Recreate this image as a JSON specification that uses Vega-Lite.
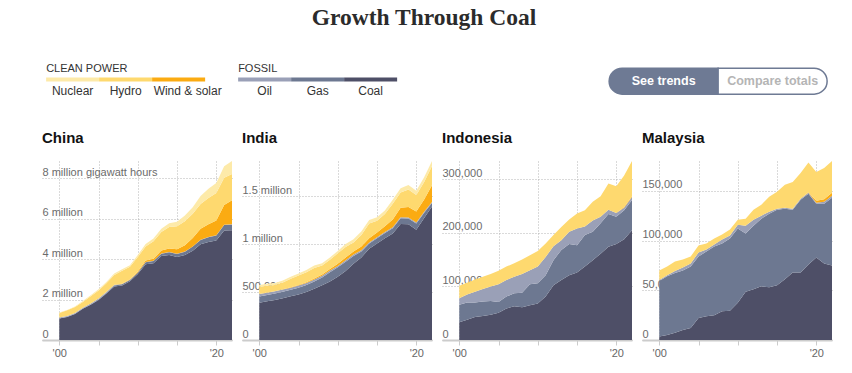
{
  "$schema": "https://vega.github.io/schema/vega-lite/v6.json",
  "background": "white",
  "padding": {"left": 42, "top": 6, "right": 10, "bottom": 0},
  "title": {"text": "Growth Through Coal", "font": "Liberation Serif", "fontSize": 23.5, "fontWeight": "bold", "color": "#2b2b2b", "anchor": "middle", "dx": -13, "offset": 33},
  "config": {"view": {"stroke": null}, "font": "Liberation Sans"},
  "datasets": {
    "energy": [
      {"country":"China","year":2000,"Coal":1060000,"Gas":6000,"Oil":47000,"Wind & solar":1000,"Hydro":222000,"Nuclear":19000},
      {"country":"China","year":2001,"Coal":1140000,"Gas":8000,"Oil":40000,"Wind & solar":1000,"Hydro":278000,"Nuclear":19000},
      {"country":"China","year":2002,"Coal":1290000,"Gas":10000,"Oil":40000,"Wind & solar":1000,"Hydro":288000,"Nuclear":27000},
      {"country":"China","year":2003,"Coal":1540000,"Gas":12000,"Oil":45000,"Wind & solar":1000,"Hydro":284000,"Nuclear":46000},
      {"country":"China","year":2004,"Coal":1740000,"Gas":15000,"Oil":50000,"Wind & solar":1000,"Hydro":353000,"Nuclear":53000},
      {"country":"China","year":2005,"Coal":1980000,"Gas":20000,"Oil":50000,"Wind & solar":2000,"Hydro":397000,"Nuclear":56000},
      {"country":"China","year":2006,"Coal":2300000,"Gas":30000,"Oil":40000,"Wind & solar":4000,"Hydro":436000,"Nuclear":59000},
      {"country":"China","year":2007,"Coal":2650000,"Gas":50000,"Oil":25000,"Wind & solar":6000,"Hydro":485000,"Nuclear":67000},
      {"country":"China","year":2008,"Coal":2700000,"Gas":60000,"Oil":15000,"Wind & solar":13000,"Hydro":637000,"Nuclear":75000},
      {"country":"China","year":2009,"Coal":2910000,"Gas":55000,"Oil":12000,"Wind & solar":28000,"Hydro":616000,"Nuclear":80000},
      {"country":"China","year":2010,"Coal":3260000,"Gas":70000,"Oil":13000,"Wind & solar":45000,"Hydro":722000,"Nuclear":99000},
      {"country":"China","year":2011,"Coal":3750000,"Gas":100000,"Oil":8000,"Wind & solar":72000,"Hydro":699000,"Nuclear":116000},
      {"country":"China","year":2012,"Coal":3800000,"Gas":110000,"Oil":8000,"Wind & solar":100000,"Hydro":872000,"Nuclear":132000},
      {"country":"China","year":2013,"Coal":4150000,"Gas":120000,"Oil":7000,"Wind & solar":150000,"Hydro":920000,"Nuclear":157000},
      {"country":"China","year":2014,"Coal":4210000,"Gas":130000,"Oil":7000,"Wind & solar":180000,"Hydro":1064000,"Nuclear":183000},
      {"country":"China","year":2015,"Coal":4110000,"Gas":145000,"Oil":7000,"Wind & solar":230000,"Hydro":1130000,"Nuclear":226000},
      {"country":"China","year":2016,"Coal":4200000,"Gas":170000,"Oil":7000,"Wind & solar":305000,"Hydro":1193000,"Nuclear":278000},
      {"country":"China","year":2017,"Coal":4420000,"Gas":200000,"Oil":10000,"Wind & solar":415000,"Hydro":1194000,"Nuclear":328000},
      {"country":"China","year":2018,"Coal":4730000,"Gas":215000,"Oil":10000,"Wind & solar":545000,"Hydro":1232000,"Nuclear":385000},
      {"country":"China","year":2019,"Coal":4850000,"Gas":235000,"Oil":10000,"Wind & solar":630000,"Hydro":1302000,"Nuclear":459000},
      {"country":"China","year":2020,"Coal":4920000,"Gas":250000,"Oil":10000,"Wind & solar":730000,"Hydro":1355000,"Nuclear":502000},
      {"country":"China","year":2021,"Coal":5420000,"Gas":270000,"Oil":12000,"Wind & solar":980000,"Hydro":1340000,"Nuclear":573000},
      {"country":"China","year":2022,"Coal":5430000,"Gas":276000,"Oil":14000,"Wind & solar":1190000,"Hydro":1303000,"Nuclear":640000},
      {"country":"India","year":2000,"Coal":389000,"Gas":65000,"Oil":24000,"Wind & solar":2000,"Hydro":74000,"Nuclear":19000},
      {"country":"India","year":2001,"Coal":403000,"Gas":65000,"Oil":24000,"Wind & solar":2000,"Hydro":70000,"Nuclear":21000},
      {"country":"India","year":2002,"Coal":418000,"Gas":66000,"Oil":23000,"Wind & solar":2000,"Hydro":64000,"Nuclear":22000},
      {"country":"India","year":2003,"Coal":435000,"Gas":67000,"Oil":23000,"Wind & solar":3000,"Hydro":70000,"Nuclear":22000},
      {"country":"India","year":2004,"Coal":455000,"Gas":68000,"Oil":22000,"Wind & solar":4000,"Hydro":88000,"Nuclear":23000},
      {"country":"India","year":2005,"Coal":475000,"Gas":70000,"Oil":22000,"Wind & solar":6000,"Hydro":98000,"Nuclear":23000},
      {"country":"India","year":2006,"Coal":500000,"Gas":73000,"Oil":21000,"Wind & solar":8000,"Hydro":105000,"Nuclear":23000},
      {"country":"India","year":2007,"Coal":535000,"Gas":75000,"Oil":20000,"Wind & solar":11000,"Hydro":110000,"Nuclear":24000},
      {"country":"India","year":2008,"Coal":570000,"Gas":80000,"Oil":19000,"Wind & solar":13000,"Hydro":95000,"Nuclear":23000},
      {"country":"India","year":2009,"Coal":610000,"Gas":95000,"Oil":18000,"Wind & solar":17000,"Hydro":95000,"Nuclear":25000},
      {"country":"India","year":2010,"Coal":660000,"Gas":97000,"Oil":15000,"Wind & solar":22000,"Hydro":109000,"Nuclear":25000},
      {"country":"India","year":2011,"Coal":720000,"Gas":95000,"Oil":16000,"Wind & solar":28000,"Hydro":109000,"Nuclear":32000},
      {"country":"India","year":2012,"Coal":795000,"Gas":80000,"Oil":15000,"Wind & solar":32000,"Hydro":95000,"Nuclear":33000},
      {"country":"India","year":2013,"Coal":860000,"Gas":62000,"Oil":14000,"Wind & solar":37000,"Hydro":122000,"Nuclear":35000},
      {"country":"India","year":2014,"Coal":950000,"Gas":55000,"Oil":12000,"Wind & solar":42000,"Hydro":155000,"Nuclear":36000},
      {"country":"India","year":2015,"Coal":1005000,"Gas":55000,"Oil":10000,"Wind & solar":50000,"Hydro":122000,"Nuclear":38000},
      {"country":"India","year":2016,"Coal":1060000,"Gas":55000,"Oil":10000,"Wind & solar":60000,"Hydro":127000,"Nuclear":38000},
      {"country":"India","year":2017,"Coal":1110000,"Gas":55000,"Oil":10000,"Wind & solar":80000,"Hydro":165000,"Nuclear":40000},
      {"country":"India","year":2018,"Coal":1208000,"Gas":60000,"Oil":10000,"Wind & solar":100000,"Hydro":160000,"Nuclear":42000},
      {"country":"India","year":2019,"Coal":1205000,"Gas":62000,"Oil":10000,"Wind & solar":108000,"Hydro":182000,"Nuclear":48000},
      {"country":"India","year":2020,"Coal":1150000,"Gas":64000,"Oil":10000,"Wind & solar":115000,"Hydro":171000,"Nuclear":45000},
      {"country":"India","year":2021,"Coal":1270000,"Gas":55000,"Oil":10000,"Wind & solar":128000,"Hydro":182000,"Nuclear":50000},
      {"country":"India","year":2022,"Coal":1390000,"Gas":38000,"Oil":10000,"Wind & solar":175000,"Hydro":200000,"Nuclear":52000},
      {"country":"Indonesia","year":2000,"Coal":33000,"Gas":33000,"Oil":12000,"Wind & solar":0,"Hydro":23000,"Nuclear":0},
      {"country":"Indonesia","year":2001,"Coal":38000,"Gas":32000,"Oil":15000,"Wind & solar":0,"Hydro":22000,"Nuclear":0},
      {"country":"Indonesia","year":2002,"Coal":43000,"Gas":27000,"Oil":20000,"Wind & solar":0,"Hydro":23000,"Nuclear":0},
      {"country":"Indonesia","year":2003,"Coal":45000,"Gas":27000,"Oil":23000,"Wind & solar":0,"Hydro":23000,"Nuclear":0},
      {"country":"Indonesia","year":2004,"Coal":47000,"Gas":26000,"Oil":27000,"Wind & solar":0,"Hydro":23000,"Nuclear":0},
      {"country":"Indonesia","year":2005,"Coal":51000,"Gas":20000,"Oil":33000,"Wind & solar":0,"Hydro":25000,"Nuclear":0},
      {"country":"Indonesia","year":2006,"Coal":59000,"Gas":22000,"Oil":31000,"Wind & solar":0,"Hydro":25000,"Nuclear":0},
      {"country":"Indonesia","year":2007,"Coal":63000,"Gas":24000,"Oil":31000,"Wind & solar":0,"Hydro":25000,"Nuclear":0},
      {"country":"Indonesia","year":2008,"Coal":61000,"Gas":27000,"Oil":35000,"Wind & solar":0,"Hydro":27000,"Nuclear":0},
      {"country":"Indonesia","year":2009,"Coal":65000,"Gas":39000,"Oil":26000,"Wind & solar":0,"Hydro":28000,"Nuclear":0},
      {"country":"Indonesia","year":2010,"Coal":68000,"Gas":38000,"Oil":31000,"Wind & solar":0,"Hydro":29000,"Nuclear":0},
      {"country":"Indonesia","year":2011,"Coal":81000,"Gas":40000,"Oil":34000,"Wind & solar":0,"Hydro":25000,"Nuclear":0},
      {"country":"Indonesia","year":2012,"Coal":102000,"Gas":47000,"Oil":26000,"Wind & solar":0,"Hydro":21000,"Nuclear":0},
      {"country":"Indonesia","year":2013,"Coal":112000,"Gas":56000,"Oil":18000,"Wind & solar":0,"Hydro":25000,"Nuclear":0},
      {"country":"Indonesia","year":2014,"Coal":121000,"Gas":58000,"Oil":23000,"Wind & solar":0,"Hydro":23000,"Nuclear":0},
      {"country":"Indonesia","year":2015,"Coal":126000,"Gas":51000,"Oil":31000,"Wind & solar":0,"Hydro":28000,"Nuclear":0},
      {"country":"Indonesia","year":2016,"Coal":137000,"Gas":59000,"Oil":16000,"Wind & solar":0,"Hydro":30000,"Nuclear":0},
      {"country":"Indonesia","year":2017,"Coal":149000,"Gas":53000,"Oil":21000,"Wind & solar":0,"Hydro":35000,"Nuclear":0},
      {"country":"Indonesia","year":2018,"Coal":161000,"Gas":57000,"Oil":12000,"Wind & solar":0,"Hydro":38000,"Nuclear":0},
      {"country":"Indonesia","year":2019,"Coal":174000,"Gas":61000,"Oil":8000,"Wind & solar":0,"Hydro":49000,"Nuclear":0},
      {"country":"Indonesia","year":2020,"Coal":179000,"Gas":51000,"Oil":7000,"Wind & solar":0,"Hydro":50000,"Nuclear":0},
      {"country":"Indonesia","year":2021,"Coal":188000,"Gas":54000,"Oil":5000,"Wind & solar":1000,"Hydro":59000,"Nuclear":0},
      {"country":"Indonesia","year":2022,"Coal":205000,"Gas":56000,"Oil":6000,"Wind & solar":1000,"Hydro":66000,"Nuclear":0},
      {"country":"Malaysia","year":2000,"Coal":3400,"Gas":56000,"Oil":1000,"Wind & solar":0,"Hydro":9600,"Nuclear":0},
      {"country":"Malaysia","year":2001,"Coal":5000,"Gas":59000,"Oil":1000,"Wind & solar":0,"Hydro":9000,"Nuclear":0},
      {"country":"Malaysia","year":2002,"Coal":7400,"Gas":60000,"Oil":2000,"Wind & solar":0,"Hydro":9600,"Nuclear":0},
      {"country":"Malaysia","year":2003,"Coal":10000,"Gas":60000,"Oil":3000,"Wind & solar":0,"Hydro":8000,"Nuclear":0},
      {"country":"Malaysia","year":2004,"Coal":12000,"Gas":62000,"Oil":3000,"Wind & solar":0,"Hydro":7000,"Nuclear":0},
      {"country":"Malaysia","year":2005,"Coal":22000,"Gas":62000,"Oil":4000,"Wind & solar":0,"Hydro":7000,"Nuclear":0},
      {"country":"Malaysia","year":2006,"Coal":24000,"Gas":65000,"Oil":2000,"Wind & solar":0,"Hydro":6000,"Nuclear":0},
      {"country":"Malaysia","year":2007,"Coal":25000,"Gas":69000,"Oil":2000,"Wind & solar":0,"Hydro":6000,"Nuclear":0},
      {"country":"Malaysia","year":2008,"Coal":29000,"Gas":68000,"Oil":4000,"Wind & solar":0,"Hydro":5000,"Nuclear":0},
      {"country":"Malaysia","year":2009,"Coal":29500,"Gas":72500,"Oil":3000,"Wind & solar":0,"Hydro":6000,"Nuclear":0},
      {"country":"Malaysia","year":2010,"Coal":37500,"Gas":74500,"Oil":4000,"Wind & solar":0,"Hydro":5000,"Nuclear":0},
      {"country":"Malaysia","year":2011,"Coal":48600,"Gas":58400,"Oil":8000,"Wind & solar":0,"Hydro":7000,"Nuclear":0},
      {"country":"Malaysia","year":2012,"Coal":51000,"Gas":64000,"Oil":6000,"Wind & solar":0,"Hydro":10000,"Nuclear":0},
      {"country":"Malaysia","year":2013,"Coal":54000,"Gas":68000,"Oil":3000,"Wind & solar":0,"Hydro":11000,"Nuclear":0},
      {"country":"Malaysia","year":2014,"Coal":53000,"Gas":74000,"Oil":2000,"Wind & solar":0,"Hydro":15000,"Nuclear":0},
      {"country":"Malaysia","year":2015,"Coal":55000,"Gas":76000,"Oil":1000,"Wind & solar":0,"Hydro":17000,"Nuclear":0},
      {"country":"Malaysia","year":2016,"Coal":61000,"Gas":71000,"Oil":1000,"Wind & solar":0,"Hydro":23000,"Nuclear":0},
      {"country":"Malaysia","year":2017,"Coal":68000,"Gas":63000,"Oil":1000,"Wind & solar":0,"Hydro":27000,"Nuclear":0},
      {"country":"Malaysia","year":2018,"Coal":68000,"Gas":73000,"Oil":1000,"Wind & solar":0,"Hydro":26000,"Nuclear":0},
      {"country":"Malaysia","year":2019,"Coal":76000,"Gas":71000,"Oil":1000,"Wind & solar":500,"Hydro":30000,"Nuclear":0},
      {"country":"Malaysia","year":2020,"Coal":83000,"Gas":54000,"Oil":1000,"Wind & solar":2000,"Hydro":29000,"Nuclear":0},
      {"country":"Malaysia","year":2021,"Coal":77000,"Gas":60000,"Oil":2000,"Wind & solar":2500,"Hydro":31500,"Nuclear":0},
      {"country":"Malaysia","year":2022,"Coal":75000,"Gas":68000,"Oil":2000,"Wind & solar":3000,"Hydro":32000,"Nuclear":0}
    ]
  },
  "vconcat": [
    {
      "hconcat": [
        {
          "hconcat": [
            {
              "width": 159, "height": 4,
              "title": {"text": "CLEAN POWER", "anchor": "start", "frame": "group", "fontSize": 11, "fontWeight": "normal", "color": "#333333", "baseline": "alphabetic", "offset": -5},
              "data": {"values": [{"item": "Nuclear"}, {"item": "Hydro"}, {"item": "Wind & solar"}]},
              "encoding": {"x": {"field": "item", "type": "nominal", "scale": {"domain": ["Nuclear", "Hydro", "Wind & solar"], "paddingInner": 0, "paddingOuter": 0}, "axis": null}},
              "layer": [
                {"mark": {"type": "rect"}, "encoding": {"color": {"field": "item", "type": "nominal", "scale": {"domain": ["Nuclear", "Hydro", "Wind & solar", "Oil", "Gas", "Coal"], "range": ["#fdeaa9", "#fed96f", "#fbab12", "#9aa0b7", "#6d7891", "#4e4f67"]}, "legend": null}}},
                {"transform": [{"filter": "datum.item !== 'Wind & solar'"}], "mark": {"type": "text", "baseline": "alphabetic", "dy": 15, "fontSize": 12, "color": "#333333"}, "encoding": {"text": {"field": "item"}}},
                {"transform": [{"filter": "datum.item === 'Wind & solar'"}], "mark": {"type": "text", "baseline": "alphabetic", "align": "left", "dx": -25, "dy": 15, "fontSize": 12, "color": "#333333"}, "encoding": {"text": {"field": "item"}}}
              ]
            },
            {
              "width": 159, "height": 4,
              "title": {"text": "FOSSIL", "anchor": "start", "frame": "group", "fontSize": 11, "fontWeight": "normal", "color": "#333333", "baseline": "alphabetic", "offset": -5},
              "data": {"values": [{"item": "Oil"}, {"item": "Gas"}, {"item": "Coal"}]},
              "encoding": {"x": {"field": "item", "type": "nominal", "scale": {"domain": ["Oil", "Gas", "Coal"], "paddingInner": 0, "paddingOuter": 0}, "axis": null}},
              "layer": [
                {"mark": {"type": "rect"}, "encoding": {"color": {"field": "item", "type": "nominal", "scale": {"domain": ["Nuclear", "Hydro", "Wind & solar", "Oil", "Gas", "Coal"], "range": ["#fdeaa9", "#fed96f", "#fbab12", "#9aa0b7", "#6d7891", "#4e4f67"]}, "legend": null}}},
                {"mark": {"type": "text", "baseline": "alphabetic", "dy": 15, "fontSize": 12, "color": "#333333"}, "encoding": {"text": {"field": "item"}}}
              ]
            }
          ],
          "spacing": 16
        },
        {
          "width": 218, "height": 26,
          "title": {"text": " ", "orient": "bottom", "fontSize": 12, "offset": 0},
          "data": {"values": [{"option": "See trends"}, {"option": "Compare totals"}]},
          "encoding": {"x": {"field": "option", "type": "nominal", "scale": {"domain": ["See trends", "Compare totals"], "paddingInner": 0, "paddingOuter": 0}, "axis": null}},
          "layer": [
            {"transform": [{"filter": "datum.option === 'See trends'"}], "mark": {"type": "rect", "fill": "#6e7a94", "stroke": "#6e7a94", "strokeWidth": 1.5, "cornerRadiusTopLeft": 13, "cornerRadiusBottomLeft": 13}},
            {"transform": [{"filter": "datum.option === 'Compare totals'"}], "mark": {"type": "rect", "fill": "#ffffff", "stroke": "#6e7a94", "strokeWidth": 1.5, "cornerRadiusTopRight": 13, "cornerRadiusBottomRight": 13}},
            {"transform": [{"filter": "datum.option === 'See trends'"}], "mark": {"type": "text", "fontSize": 12.5, "fontWeight": "bold", "color": "#ffffff"}, "encoding": {"text": {"field": "option"}}},
            {"transform": [{"filter": "datum.option === 'Compare totals'"}], "mark": {"type": "text", "fontSize": 12.5, "fontWeight": "bold", "color": "#b5b5b5"}, "encoding": {"text": {"field": "option"}}}
          ]
        }
      ],
      "spacing": 211,
      "center": true
    },
    {
      "data": {"name": "energy"},
      "transform": [
        {"fold": ["Coal", "Gas", "Oil", "Wind & solar", "Hydro", "Nuclear"], "as": ["source", "value"]},
        {"calculate": "indexof(['Coal', 'Gas', 'Oil', 'Wind & solar', 'Hydro', 'Nuclear'], datum.source)", "as": "stackOrder"}
      ],
      "resolve": {"scale": {"y": "independent"}},
      "spacing": 10,
      "hconcat": [
        {
          "width": 190, "height": 179,
          "title": {"text": "China", "anchor": "start", "frame": "group", "fontSize": 15, "fontWeight": "bold", "color": "#121212", "baseline": "alphabetic", "offset": 3},
          "transform": [{"filter": "datum.country === 'China'"}],
          "mark": {"type": "area"},
          "encoding": {
            "x": {"field": "year", "type": "quantitative", "scale": {"domain": [1997.8, 2022], "nice": false, "zero": false},
              "axis": {"values": [2000, 2005, 2010, 2015, 2020], "labelExpr": "datum.value == 2000 ? \"'00\" : (datum.value == 2020 ? \"'20\" : '')", "title": null, "domainColor": "#cccccc", "domainWidth": 2, "tickColor": "#cccccc", "tickSize": 5, "labelPadding": 2, "labelFontSize": 11, "labelColor": "#666666", "labelFlush": false, "grid": true, "gridDash": [1, 2], "gridColor": "#b5b5b5"}},
            "y": {"field": "value", "type": "quantitative", "stack": "zero", "scale": {"nice": false},
              "axis": {"values": [0, 2000000, 4000000, 6000000, 8000000], "labelExpr": "datum.value == 0 ? '0' : (datum.value == 8000000 ? '8 million gigawatt hours' : (datum.value / 1000000) + ' million')", "title": null, "domain": false, "ticks": false, "tickSize": 0, "labelAlign": "left", "labelPadding": 0, "labelBaseline": "alphabetic", "labelOffset": -3, "labelFontSize": 11, "labelColor": "#6b6b6b", "grid": true, "gridDash": [1, 2], "gridColor": "#b5b5b5"}},
            "color": {"field": "source", "type": "nominal", "scale": {"domain": ["Nuclear", "Hydro", "Wind & solar", "Oil", "Gas", "Coal"], "range": ["#fdeaa9", "#fed96f", "#fbab12", "#9aa0b7", "#6d7891", "#4e4f67"]}, "legend": null},
            "order": {"field": "stackOrder", "type": "quantitative"}
          }
        },
        {
          "width": 190, "height": 179,
          "title": {"text": "India", "anchor": "start", "frame": "group", "fontSize": 15, "fontWeight": "bold", "color": "#121212", "baseline": "alphabetic", "offset": 3},
          "transform": [{"filter": "datum.country === 'India'"}],
          "mark": {"type": "area"},
          "encoding": {
            "x": {"field": "year", "type": "quantitative", "scale": {"domain": [1997.8, 2022], "nice": false, "zero": false},
              "axis": {"values": [2000, 2005, 2010, 2015, 2020], "labelExpr": "datum.value == 2000 ? \"'00\" : (datum.value == 2020 ? \"'20\" : '')", "title": null, "domainColor": "#cccccc", "domainWidth": 2, "tickColor": "#cccccc", "tickSize": 5, "labelPadding": 2, "labelFontSize": 11, "labelColor": "#666666", "labelFlush": false, "grid": true, "gridDash": [1, 2], "gridColor": "#b5b5b5"}},
            "y": {"field": "value", "type": "quantitative", "stack": "zero", "scale": {"nice": false},
              "axis": {"values": [0, 500000, 1000000, 1500000], "labelExpr": "datum.value == 0 ? '0' : (datum.value >= 1000000 ? (datum.value / 1000000) + ' million' : format(datum.value, ','))", "title": null, "domain": false, "ticks": false, "tickSize": 0, "labelAlign": "left", "labelPadding": 0, "labelBaseline": "alphabetic", "labelOffset": -3, "labelFontSize": 11, "labelColor": "#6b6b6b", "grid": true, "gridDash": [1, 2], "gridColor": "#b5b5b5"}},
            "color": {"field": "source", "type": "nominal", "scale": {"domain": ["Nuclear", "Hydro", "Wind & solar", "Oil", "Gas", "Coal"], "range": ["#fdeaa9", "#fed96f", "#fbab12", "#9aa0b7", "#6d7891", "#4e4f67"]}, "legend": null},
            "order": {"field": "stackOrder", "type": "quantitative"}
          }
        },
        {
          "width": 190, "height": 179,
          "title": {"text": "Indonesia", "anchor": "start", "frame": "group", "fontSize": 15, "fontWeight": "bold", "color": "#121212", "baseline": "alphabetic", "offset": 3},
          "transform": [{"filter": "datum.country === 'Indonesia'"}],
          "mark": {"type": "area"},
          "encoding": {
            "x": {"field": "year", "type": "quantitative", "scale": {"domain": [1997.8, 2022], "nice": false, "zero": false},
              "axis": {"values": [2000, 2005, 2010, 2015, 2020], "labelExpr": "datum.value == 2000 ? \"'00\" : (datum.value == 2020 ? \"'20\" : '')", "title": null, "domainColor": "#cccccc", "domainWidth": 2, "tickColor": "#cccccc", "tickSize": 5, "labelPadding": 2, "labelFontSize": 11, "labelColor": "#666666", "labelFlush": false, "grid": true, "gridDash": [1, 2], "gridColor": "#b5b5b5"}},
            "y": {"field": "value", "type": "quantitative", "stack": "zero", "scale": {"nice": false},
              "axis": {"values": [0, 100000, 200000, 300000], "labelExpr": "format(datum.value, ',')", "title": null, "domain": false, "ticks": false, "tickSize": 0, "labelAlign": "left", "labelPadding": 0, "labelBaseline": "alphabetic", "labelOffset": -3, "labelFontSize": 11, "labelColor": "#6b6b6b", "grid": true, "gridDash": [1, 2], "gridColor": "#b5b5b5"}},
            "color": {"field": "source", "type": "nominal", "scale": {"domain": ["Nuclear", "Hydro", "Wind & solar", "Oil", "Gas", "Coal"], "range": ["#fdeaa9", "#fed96f", "#fbab12", "#9aa0b7", "#6d7891", "#4e4f67"]}, "legend": null},
            "order": {"field": "stackOrder", "type": "quantitative"}
          }
        },
        {
          "width": 190, "height": 179,
          "title": {"text": "Malaysia", "anchor": "start", "frame": "group", "fontSize": 15, "fontWeight": "bold", "color": "#121212", "baseline": "alphabetic", "offset": 3},
          "transform": [{"filter": "datum.country === 'Malaysia'"}],
          "mark": {"type": "area"},
          "encoding": {
            "x": {"field": "year", "type": "quantitative", "scale": {"domain": [1997.8, 2022], "nice": false, "zero": false},
              "axis": {"values": [2000, 2005, 2010, 2015, 2020], "labelExpr": "datum.value == 2000 ? \"'00\" : (datum.value == 2020 ? \"'20\" : '')", "title": null, "domainColor": "#cccccc", "domainWidth": 2, "tickColor": "#cccccc", "tickSize": 5, "labelPadding": 2, "labelFontSize": 11, "labelColor": "#666666", "labelFlush": false, "grid": true, "gridDash": [1, 2], "gridColor": "#b5b5b5"}},
            "y": {"field": "value", "type": "quantitative", "stack": "zero", "scale": {"nice": false},
              "axis": {"values": [0, 50000, 100000, 150000], "labelExpr": "format(datum.value, ',')", "title": null, "domain": false, "ticks": false, "tickSize": 0, "labelAlign": "left", "labelPadding": 0, "labelBaseline": "alphabetic", "labelOffset": -3, "labelFontSize": 11, "labelColor": "#6b6b6b", "grid": true, "gridDash": [1, 2], "gridColor": "#b5b5b5"}},
            "color": {"field": "source", "type": "nominal", "scale": {"domain": ["Nuclear", "Hydro", "Wind & solar", "Oil", "Gas", "Coal"], "range": ["#fdeaa9", "#fed96f", "#fbab12", "#9aa0b7", "#6d7891", "#4e4f67"]}, "legend": null},
            "order": {"field": "stackOrder", "type": "quantitative"}
          }
        }
      ]
    }
  ],
  "spacing": 25,
  "center": true
}
